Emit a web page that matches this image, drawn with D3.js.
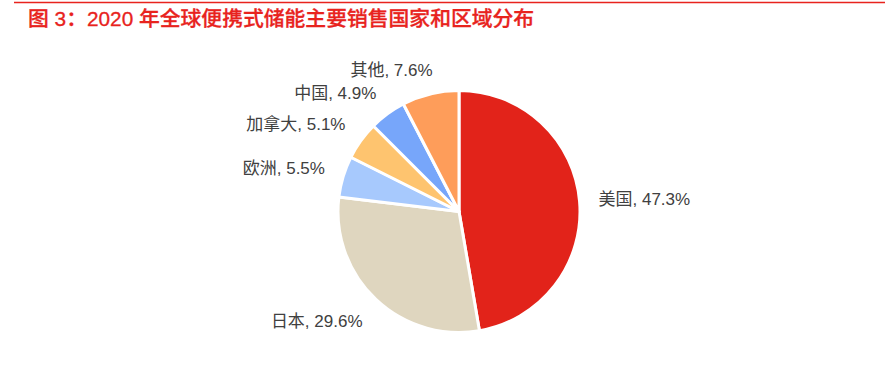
<!DOCTYPE html>
<html><head><meta charset="utf-8">
<script src="https://cdn.jsdelivr.net/npm/d3@7"></script>
<style>html,body{margin:0;padding:0;background:#fff;}svg{display:block;}</style>
</head><body>
<svg id="chart" width="885" height="376"></svg>
<script>
const title = "图 3：2020 年全球便携式储能主要销售国家和区域分布";
const categories = ["美国", "日本", "欧洲", "加拿大", "中国", "其他"];
const shares = [47.3, 29.6, 5.5, 5.1, 4.9, 7.6];
const colors = ["#E2231A", "#DFD6BF", "#A7C9FD", "#FEC46F", "#77A6FA", "#FE9D5A"];

const svg = d3.select("#chart");
const W = 885, H = 376;
const cx = 459, cy = 211.5, r = 121, labelR = 140;
const font = "'Liberation Sans', Arial, 'Noto Sans CJK SC', sans-serif";

svg.append("line").attr("x1", 14).attr("x2", W).attr("y1", 2.5).attr("y2", 2.5)
  .attr("stroke", "#E8231D").attr("stroke-width", 1.5);
svg.append("text").attr("x", 28).attr("y", 26)
  .attr("font-family", "'Liberation Sans', Arial, 'Noto Sans CJK SC', sans-serif").attr("font-size", 20.8).attr("font-weight", 500)
  .attr("fill", "#E8231D").attr("stroke", "#E8231D").attr("stroke-width", 0.3).text(title);

const data = categories.map((c, i) => ({name: c, value: shares[i], color: colors[i]}));
const pie = d3.pie().value(d => d.value).sort(null);
const arcs = pie(data);
const arc = d3.arc().innerRadius(0).outerRadius(r);

const g = svg.append("g").attr("transform", `translate(${cx},${cy})`);
g.selectAll("path").data(arcs).join("path")
  .attr("d", arc).attr("fill", d => d.data.color)
  .attr("stroke", "#fff").attr("stroke-width", 3).attr("stroke-linejoin", "round");

const lg = g.append("g");
arcs.forEach(a => {
  const mid = (a.startAngle + a.endAngle) / 2;
  const s = Math.sin(mid), c = Math.cos(mid);
  const ax = labelR * s, ay = -labelR * c;
  const t = lg.append("text")
    .attr("font-family", font).attr("font-size", 17).attr("fill", "#404040")
    .text(`${a.data.name}, ${a.data.value.toFixed(1)}%`);
  const bb = t.node().getBBox();
  const w = bb.width, h = 16;
  const f = Math.max(0, Math.min(1, 0.5 - s * 1.77));
  const left = ax - w * f;
  const centerY = ay - (h / 2) * Math.max(-1, Math.min(0.7, c * 1.4));
  t.attr("x", left).attr("y", centerY).attr("dy", "0.35em");
});
</script>
</body></html>
